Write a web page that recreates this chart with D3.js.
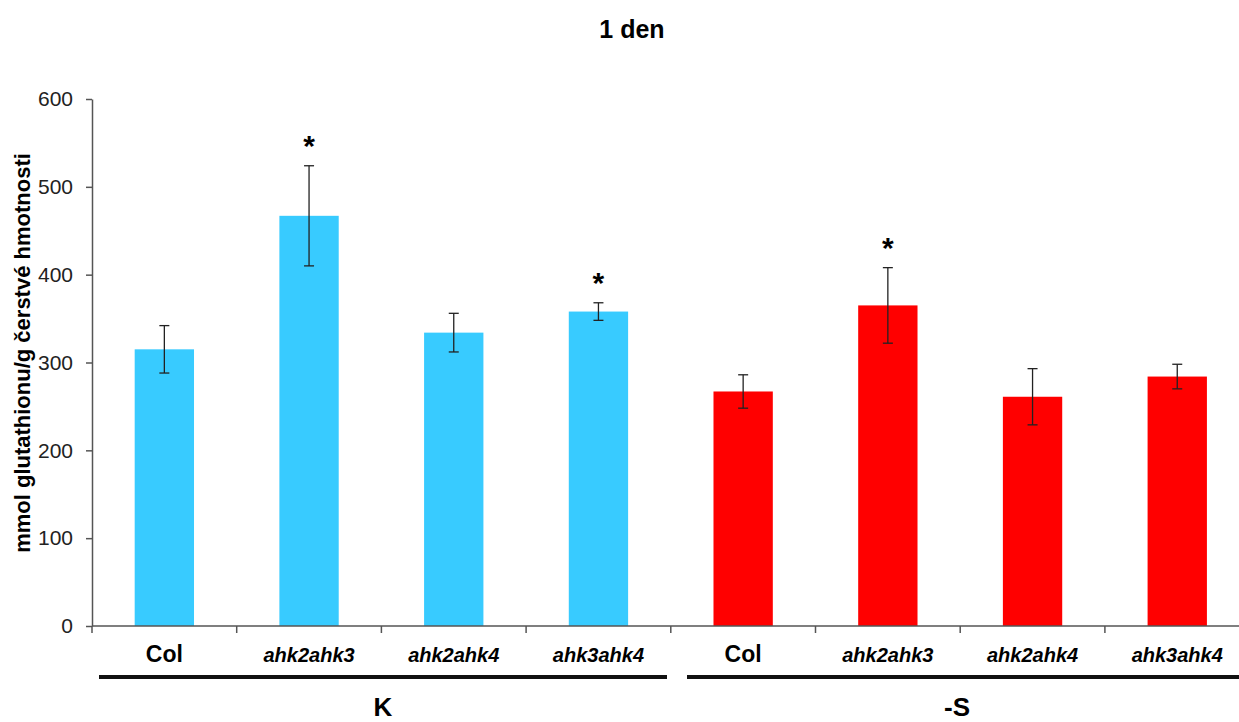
<!DOCTYPE html>
<html>
<head>
<meta charset="utf-8">
<script src="https://cdn.jsdelivr.net/npm/d3@7"></script>
<style>
  body { margin: 0; background: #fff; }
  text { font-family: "Liberation Sans", Arial, sans-serif; }
</style>
</head>
<body>
<script>
var categories = ["Col", "ahk2ahk3", "ahk2ahk4", "ahk3ahk4", "Col", "ahk2ahk3", "ahk2ahk4", "ahk3ahk4"];
var groups = ["K", "K", "K", "K", "-S", "-S", "-S", "-S"];
var values = [315, 467, 334, 358, 267, 365, 261, 284];
var errors = [27, 57, 22, 10, 19, 43, 32, 14];
var significant = [false, true, false, true, false, true, false, false];
var yTicks = [0, 100, 200, 300, 400, 500, 600];
var groupNames = ["K", "-S"];

var width = 1239, height = 722;
var margin = { left: 92, top: 99, bottom: 96 };

var svg = d3.select("body").append("svg")
  .attr("width", width)
  .attr("height", height);

var x = d3.scaleBand()
  .domain(d3.range(categories.length))
  .range([margin.left, margin.left + 144.7 * categories.length])
  .paddingInner(0.59)
  .paddingOuter(0.295);

var y = d3.scaleLinear()
  .domain([0, 600])
  .range([626, 99]);

var color = function (g) { return g == "K" ? "#38cbff" : "#ff0000"; };

// title
svg.append("text")
  .attr("x", 632).attr("y", 38)
  .attr("text-anchor", "middle")
  .style("font-size", "25px").style("font-weight", "bold")
  .text("1 den");

// y axis
var yAxis = svg.append("g")
  .attr("transform", "translate(" + margin.left + ",0)")
  .call(d3.axisLeft(y).tickValues(yTicks).tickSize(6).tickSizeOuter(0));
yAxis.select(".domain").attr("stroke", "#555").attr("stroke-width", 1.5);
yAxis.selectAll(".tick line").attr("stroke", "#555").attr("stroke-width", 1.5);
yAxis.selectAll(".tick text")
  .attr("x", -19)
  .style("font-size", "21px")
  .style("font-family", "Liberation Sans, Arial, sans-serif")
  .attr("fill", "#222");

// y label
svg.append("text")
  .attr("transform", "translate(30,353) rotate(-90)")
  .attr("text-anchor", "middle")
  .style("font-size", "22px").style("font-weight", "bold")
  .text("mmol glutathionu/g čerstvé hmotnosti");

// bars
svg.selectAll(".bar")
  .data(values)
  .enter()
  .append("rect")
  .attr("class", "bar")
  .attr("x", function (d, i) { return x(i); })
  .attr("y", function (d) { return y(d); })
  .attr("width", x.bandwidth())
  .attr("height", function (d) { return y(0) - y(d); })
  .attr("fill", function (d, i) { return color(groups[i]); });

// error bars
var eb = svg.selectAll(".err")
  .data(values)
  .enter()
  .append("g")
  .attr("class", "err")
  .attr("stroke", "#222")
  .attr("stroke-width", 1.3);
eb.append("line")
  .attr("x1", function (d, i) { return x(i) + x.bandwidth() / 2; })
  .attr("x2", function (d, i) { return x(i) + x.bandwidth() / 2; })
  .attr("y1", function (d, i) { return y(d + errors[i]); })
  .attr("y2", function (d, i) { return y(d - errors[i]); });
eb.append("line")
  .attr("x1", function (d, i) { return x(i) + x.bandwidth() / 2 - 5; })
  .attr("x2", function (d, i) { return x(i) + x.bandwidth() / 2 + 5; })
  .attr("y1", function (d, i) { return y(d + errors[i]); })
  .attr("y2", function (d, i) { return y(d + errors[i]); });
eb.append("line")
  .attr("x1", function (d, i) { return x(i) + x.bandwidth() / 2 - 5; })
  .attr("x2", function (d, i) { return x(i) + x.bandwidth() / 2 + 5; })
  .attr("y1", function (d, i) { return y(d - errors[i]); })
  .attr("y2", function (d, i) { return y(d - errors[i]); });

// stars over significant bars
var starIdx = d3.range(categories.length).filter(function (i) { return significant[i]; });
svg.selectAll(".star")
  .data(starIdx)
  .enter()
  .append("text")
  .attr("class", "star")
  .attr("x", function (i) { return x(i) + x.bandwidth() / 2; })
  .attr("y", function (i) { return y(values[i] + errors[i]) - 10; })
  .attr("text-anchor", "middle")
  .style("font-size", "30px").style("font-weight", "bold")
  .text("*");

// x axis
var xAxis = svg.append("g")
  .attr("transform", "translate(0," + y(0) + ")");
xAxis.append("line")
  .attr("x1", margin.left).attr("x2", width)
  .attr("stroke", "#555").attr("stroke-width", 1.5);
xAxis.selectAll(".xt")
  .data(d3.range(categories.length + 1))
  .enter()
  .append("line")
  .attr("x1", function (i) { return margin.left + i * x.step(); })
  .attr("x2", function (i) { return margin.left + i * x.step(); })
  .attr("y1", 0).attr("y2", 7)
  .attr("stroke", "#555").attr("stroke-width", 1.5);

svg.selectAll(".cat")
  .data(categories)
  .enter()
  .append("text")
  .attr("class", "cat")
  .attr("x", function (d, i) { return x(i) + x.bandwidth() / 2; })
  .attr("y", 662)
  .attr("text-anchor", "middle")
  .style("font-weight", "bold")
  .style("font-size", function (d) { return d == "Col" ? "23px" : "20px"; })
  .style("font-style", function (d) { return d == "Col" ? "normal" : "italic"; })
  .text(function (d) { return d; });

// group lines and labels
groupNames.forEach(function (g, gi) {
  svg.append("line")
    .attr("x1", gi == 0 ? 99 : 687)
    .attr("x2", gi == 0 ? 667 : width)
    .attr("y1", 677).attr("y2", 677)
    .attr("stroke", "#111").attr("stroke-width", 4);
  svg.append("text")
    .attr("x", gi == 0 ? 383 : 957)
    .attr("y", 716)
    .attr("text-anchor", "middle")
    .style("font-size", "26px").style("font-weight", "bold")
    .text(g);
});
</script>
</body>
</html>
